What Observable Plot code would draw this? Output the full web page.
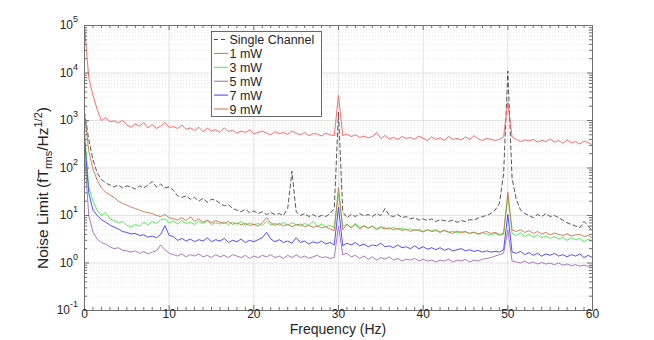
<!DOCTYPE html>
<html><head><meta charset="utf-8">
<script src="https://cdn.jsdelivr.net/npm/d3@7"></script>
<script src="https://cdn.jsdelivr.net/npm/@observablehq/plot@0.6"></script>
<style>body{margin:0;background:#fff;} #chart svg{font-family:"Liberation Sans",Arial,sans-serif;}</style>
</head><body><div id="chart"></div>
<script>
const freq = [0,0.5,1,1.5,2,2.5,3,3.5,4,4.5,5,5.5,6,6.5,7,7.5,8,8.5,9,9.5,10,10.5,11,11.5,12,12.5,13,13.5,14,14.5,15,15.5,16,16.5,17,17.5,18,18.5,19,19.5,20,20.5,21,21.5,22,22.5,23,23.5,24,24.5,25,25.5,26,26.5,27,27.5,28,28.5,29,29.5,30,30.5,31,31.5,32,32.5,33,33.5,34,34.5,35,35.5,36,36.5,37,37.5,38,38.5,39,39.5,40,40.5,41,41.5,42,42.5,43,43.5,44,44.5,45,45.5,46,46.5,47,47.5,48,48.5,49,49.5,50,50.5,51,51.5,52,52.5,53,53.5,54,54.5,55,55.5,56,56.5,57,57.5,58,58.5,59,59.5,60];

const singleChannel = [1500,400,150,78,58,48,44,40,44,38,42,40,36,42,38,44,52,40,46,38,40,34,26,24,26,22,24,20,23,19,22,21,18,16,17,14,13,12,13.5,11.5,12.5,11,12,10.5,11.5,10.5,11,10,14,85,12,10,11,9.5,10.5,9.2,10,9.5,11,14,1500,12,9,10.5,9.5,11,9.8,10.5,9.5,11,10,14,10,9.5,10.5,9,9.5,8.5,9,8,8.5,7.8,8.5,7.5,8.2,7.8,7.5,8,7.2,7.8,7.5,8.2,8,8.8,9.5,10,11,13,18,75,11000,60,22,13,11,10,9,10.5,9.5,11,9.5,10,9,8,7,6.5,6,5.5,7.5,6,4.8];

const mw1 = [100000,8000,3400,1700,1000,1150,950,980,900,1000,800,720,850,760,900,700,820,680,760,900,720,740,680,800,650,700,620,720,580,690,600,640,560,700,590,620,540,600,560,640,520,560,600,540,500,580,530,560,510,600,540,500,560,480,530,520,470,540,500,480,3400,480,520,460,500,440,470,430,460,560,420,480,410,440,400,460,420,440,400,470,420,380,450,400,430,380,460,400,420,390,450,400,480,410,380,420,400,380,400,450,2400,450,400,360,390,370,400,350,380,360,410,350,380,330,390,340,360,320,370,340,310];

const mw3 = [600,40,20,13,10,11.5,8.5,7.8,7,7.5,6.2,5.7,6.5,6,7.2,6.4,7.5,6.8,8.2,8.5,7,7.6,6.6,7.8,6.8,7.2,6.5,7.5,6.8,7.8,6.5,7,6.6,7.4,6.4,7.2,6.5,7.5,6.2,7,6.4,6.8,6.2,7.5,6.4,6.8,6.3,7.2,6.2,7,6.4,6,6.8,6.2,7.5,6,6.6,5.8,6.2,5.6,29,6,6.5,5.6,6.8,5.5,6.2,5.4,6,5.3,5.8,5.5,5.2,5.6,5.1,5.4,4.9,5.3,4.8,5.2,4.6,5,4.7,5.1,4.5,4.8,4.4,4.7,4.3,4.6,4.5,4.2,4.4,4,4.3,4.1,3.9,4.2,3.8,4,26,4.2,3.8,4.3,3.6,4,3.5,3.9,3.4,3.7,3.3,3.6,3.2,3.5,3,3.4,3.1,3.3,2.8,3.2,2.8];

const mw5 = [230,10,4.5,3.2,2.7,2.5,2.2,2,2.1,1.85,1.8,1.7,1.8,1.6,1.75,1.55,1.7,1.8,2.4,1.9,1.6,1.5,1.4,1.55,1.35,1.5,1.4,1.55,1.35,1.45,1.3,1.5,1.35,1.45,1.3,1.5,1.4,1.3,1.45,1.25,1.4,1.3,1.45,1.35,1.5,1.3,1.4,1.25,1.45,1.3,1.5,1.3,1.4,1.25,1.35,1.45,1.3,1.35,1.25,1.3,6,1.5,1.6,1.35,1.45,1.25,1.4,1.2,1.35,1.15,1.3,1.2,1.35,1.15,1.25,1.1,1.2,1.15,1.25,1.1,1.2,1.1,1.15,1.05,1.15,1.1,1.2,1.05,1.15,1.1,1.2,1.05,1.15,1.1,1.2,1.25,1.3,1.4,1.5,1.6,5,1.1,1.05,1,1.1,0.98,1.05,0.95,1.02,0.95,1,0.92,1,0.9,0.95,0.88,0.92,0.86,0.9,0.85,0.88];

const mw7 = [440,30,13,10,8.2,7.2,6.3,5.7,5.2,4.6,4.4,4.1,4.2,3.8,3.9,3.5,3.7,3.4,4,6.1,3.8,3.6,3,3.3,2.9,3.2,2.8,3.1,2.9,3.4,2.8,3.1,2.9,3.3,2.7,3,2.8,3.2,2.7,3,2.8,3.1,3.4,4.4,3.2,2.8,3.1,2.7,2.9,2.6,3.4,2.7,2.9,2.5,2.8,2.6,2.9,2.5,2.7,2.4,15,2.3,2.6,2.4,2.7,2.3,2.5,2.2,2.4,2.3,2.6,2.2,2.3,2.1,2.4,2.1,2.2,2,2.3,2,2.2,1.95,2.1,1.9,2.1,1.85,2,1.8,1.9,2,1.8,1.9,1.75,1.85,1.7,1.8,1.7,1.75,1.7,1.9,10.5,1.7,1.6,1.75,1.5,1.65,1.45,1.6,1.4,1.55,1.45,1.6,1.4,1.5,1.35,1.5,1.4,1.55,1.3,1.45,1.3];

const mw9 = [1400,230,95,55,38,31,27,24,20,18,16.5,15,14,13,12,11.5,11,10,9.5,10.5,9,8.5,8,9,7.8,9.5,7.5,8.5,7.2,8,7,7.8,7.2,6.8,7.5,6.5,7,6.4,6.8,6.2,6.5,6,7,9,7,6.2,6.8,6,6.5,5.8,6.3,6.6,5.8,6.2,5.6,6,5.5,5.8,5.2,4.8,39,5,6.5,5.5,6.5,5.2,6,5.4,5.9,5,5.6,5.2,5.5,5,5.4,4.8,5.2,4.6,5,4.8,4.5,5,4.6,4.8,4.4,4.9,4.5,4.2,4.7,4.3,4.6,4.2,4.5,4.1,4.4,4.6,4.2,4.4,4,4.2,31,5,4.6,5,4.4,4.8,4.2,4.6,4.1,4.4,3.9,4.3,4,3.8,4.1,3.7,3.9,4,3.6,3.8,3.4];

const seriesNames = ["Single Channel","1 mW","3 mW","5 mW","7 mW","9 mW"];
const seriesValues = [singleChannel, mw1, mw3, mw5, mw7, mw9];
const seriesColors = ["#444444","#ff5a5a","#3ef03e","#a468bc","#3c3cff","#c8744e"];
const seriesDash = ["4,3", null, null, null, null, null];

const xTicks = [0,10,20,30,40,50,60];
const xMinorTicks = d3.range(0,61,1).filter(v => v % 10 !== 0);
const yTicks = [0.1,1,10,100,1000,10000,100000];
const yTickExponents = ["-1","0","1","2","3","4","5"];
const yMinorTicks = [];
[0.1,1,10,100,1000,10000].forEach(d => { for (let m = 2; m <= 9; m++) yMinorTicks.push(d*m); });

const W = 654, H = 340, mL = 84, mR = 62, mT = 25, mB = 30;
const fw = W - mL - mR, fh = H - mT - mB;
const axisColor = "#707070";
const textColor = "#262626";

const marks = [
  Plot.ruleY(yMinorTicks, {stroke: "#e4e4e4", strokeDasharray: "1,2"}),
  Plot.ruleX(xTicks.slice(1,-1), {stroke: "#e2e2e2"}),
  Plot.ruleY(yTicks.slice(1,-1), {stroke: "#e2e2e2"})
];
seriesValues.forEach((vals, k) => {
  const rows = vals.map((v, i) => ({f: freq[i], v}));
  marks.push(Plot.line(rows, {x: "f", y: "v", stroke: seriesColors[k], strokeWidth: 0.9,
    strokeDasharray: seriesDash[k] || undefined}));
});
marks.push(
  Plot.ruleX(xTicks, {stroke: axisColor, insetTop: fh - 5}),
  Plot.ruleX(xTicks, {stroke: axisColor, insetBottom: fh - 5}),
  Plot.ruleX(xMinorTicks, {stroke: axisColor, insetTop: fh - 3}),
  Plot.ruleX(xMinorTicks, {stroke: axisColor, insetBottom: fh - 3}),
  Plot.ruleY(yTicks, {stroke: axisColor, insetRight: fw - 5}),
  Plot.ruleY(yTicks, {stroke: axisColor, insetLeft: fw - 5}),
  Plot.ruleY(yMinorTicks, {stroke: axisColor, insetRight: fw - 3}),
  Plot.ruleY(yMinorTicks, {stroke: axisColor, insetLeft: fw - 3}),
  Plot.frame({stroke: axisColor}),
  Plot.axisX(xTicks, {tickSize: 0, tickPadding: 0, dy: -1, fontSize: 12, fill: textColor, label: null})
);

const chart = Plot.plot({
  width: W, height: H,
  marginLeft: mL, marginRight: mR, marginTop: mT, marginBottom: mB,
  x: {domain: [0, 60]},
  y: {type: "log", domain: [0.1, 100000], axis: null},
  style: {fontFamily: "'Liberation Sans', Arial, sans-serif", background: "#fff"},
  marks
});
document.getElementById("chart").appendChild(chart);

const svg = d3.select(chart);
const ys = chart.scale("y");
const xs = chart.scale("x");

// y tick labels with superscripts
yTicks.forEach((v, i) => {
  const t = svg.append("text")
    .attr("x", mL - 6).attr("y", ys.apply(v)).attr("dy", "0.35em")
    .attr("text-anchor", "end").attr("fill", textColor).attr("font-size", 12);
  t.append("tspan").text("10");
  t.append("tspan").attr("font-size", 9).attr("dy", "-0.8em").text(yTickExponents[i]);
});

// x label
svg.append("text")
  .attr("x", (xs.apply(0) + xs.apply(60)) / 2).attr("y", 334)
  .attr("text-anchor", "middle").attr("fill", textColor).attr("font-size", 14)
  .text("Frequency (Hz)");

// y label
const yl = svg.append("text")
  .attr("transform", `translate(48,188) rotate(-90)`)
  .attr("text-anchor", "middle").attr("fill", textColor).attr("font-size", 15.5);
yl.append("tspan").text("Noise Limit (fT");
yl.append("tspan").attr("font-size", 11).attr("dy", 4).text("rms");
yl.append("tspan").attr("dy", -4).text("/Hz");
yl.append("tspan").attr("font-size", 11).attr("dy", -6).text("1/2");
yl.append("tspan").attr("dy", 6).text(")");

// legend
const lg = svg.append("g");
lg.append("rect").attr("x", 211.5).attr("y", 31.5).attr("width", 110).attr("height", 85)
  .attr("fill", "#fff").attr("stroke", "#444").attr("stroke-width", 0.8);
seriesNames.forEach((name, i) => {
  const cy = 39.5 + i * 13.9;
  lg.append("line").attr("x1", 214).attr("x2", 228).attr("y1", cy).attr("y2", cy)
    .attr("stroke", seriesColors[i]).attr("stroke-width", 1)
    .attr("stroke-dasharray", seriesDash[i] || null);
  lg.append("text").attr("x", 229.5).attr("y", cy).attr("dy", "0.36em")
    .attr("text-anchor", "start")
    .attr("fill", textColor).attr("font-size", 12.5).text(name);
});
</script>
</body></html>
